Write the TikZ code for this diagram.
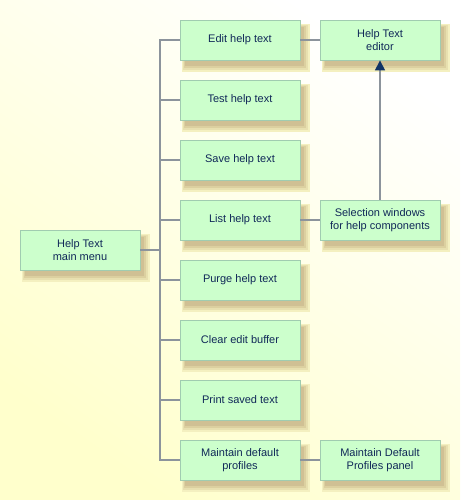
\documentclass[tikz,border=0pt]{standalone}
\usepackage{fontspec}
\setmainfont{Liberation Sans}
\usetikzlibrary{arrows.meta}
\definecolor{bgyellow}{HTML}{FFFFCC}
\definecolor{boxfill}{HTML}{CCFFCC}
\definecolor{boxdraw}{HTML}{A0CCB0}
\definecolor{linecol}{HTML}{8C949C}
\definecolor{txtcol}{HTML}{102858}
\definecolor{tipcol}{HTML}{113366}
\definecolor{shadeA}{HTML}{F4F0C0}
\definecolor{shadeB}{HTML}{E8E0B0}
\definecolor{shadeC}{HTML}{DCD0A0}
\definecolor{shadeD}{HTML}{D0C094}
\tikzset{
  box/.style={draw=boxdraw, fill=boxfill, line width=0.8pt, minimum width=120pt, minimum height=40pt,
    inner sep=0pt, align=center, text=txtcol, font=\fontsize{11}{13}\selectfont},
  conn/.style={draw=linecol, line width=1.2pt},
  arr/.style={conn, -{Triangle[length=10pt,width=10pt,fill=tipcol,color=tipcol]}}
}
\newcommand{\myshbox}[4]{%
  \fill[shadeA] (#2-58,#3-16) rectangle (#2+70,#3+32);
  \fill[shadeB] (#2-57,#3-15) rectangle (#2+68,#3+30);
  \fill[shadeC] (#2-56,#3-14) rectangle (#2+66,#3+28);
  \fill[shadeD] (#2-55,#3-13) rectangle (#2+64,#3+26);
  \node[box] (#1) at (#2,#3) {#4};
}
\begin{document}
\begin{tikzpicture}[x=1pt,y=-1pt]
\useasboundingbox (0,0) rectangle (460,500);
\shade[top color=white, middle color=bgyellow, bottom color=bgyellow, shading angle=-35] (0,0) rectangle (460,500);
\myshbox{main}{80}{250}{Help Text\\main menu}
\myshbox{edit}{240}{40}{Edit help text}
\myshbox{test}{240}{100}{Test help text}
\myshbox{save}{240}{160}{Save help text}
\myshbox{list}{240}{220}{List help text}
\myshbox{purge}{240}{280}{Purge help text}
\myshbox{clear}{240}{340}{Clear edit buffer}
\myshbox{print}{240}{400}{Print saved text}
\myshbox{maint}{240}{460}{Maintain default\\profiles}
\myshbox{editor}{380}{40}{Help Text\\editor}
\myshbox{sel}{380}{220}{Selection windows\\for help components}
\myshbox{panel}{380}{460}{Maintain Default\\Profiles panel}
\coordinate (trunk) at (160,250);
\draw[conn] (main.east) -- (trunk);
\draw[conn] (edit.west) -| (trunk) |- (maint.west);
\foreach \n in {test,save,list,purge,clear,print} {
  \draw[conn] (\n.west) -- (\n.west -| trunk);
}
\draw[conn] (edit.east) -- (editor.west);
\draw[conn] (list.east) -- (sel.west);
\draw[conn] (maint.east) -- (panel.west);
\draw[arr] (sel.north) -- (editor.south);
\end{tikzpicture}
\end{document}
